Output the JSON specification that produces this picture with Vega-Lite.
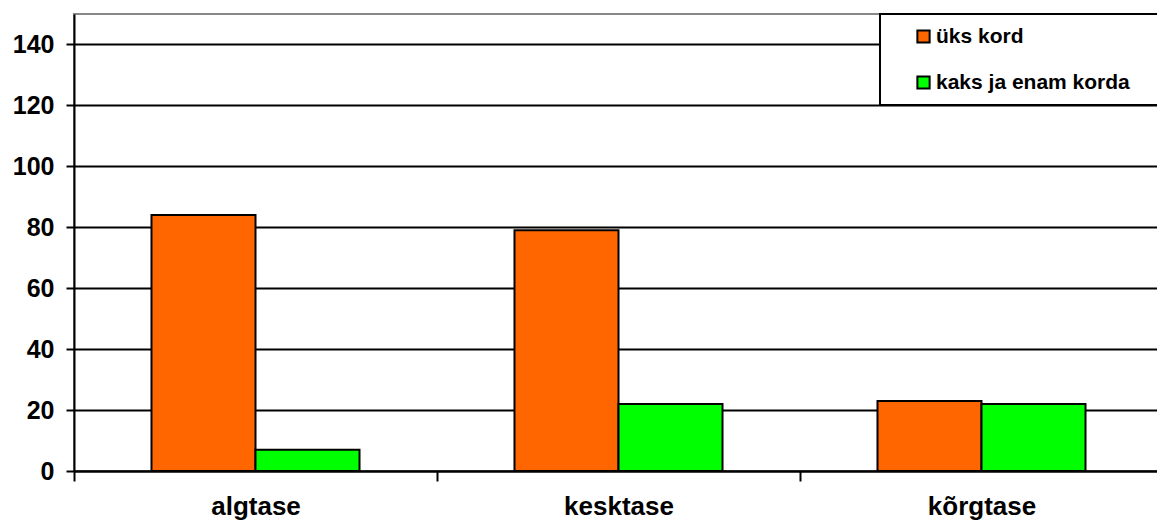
{
  "$schema": "https://vega.github.io/schema/vega-lite/v6.json",
  "autosize": {"type": "none"},
  "padding": {"left": 74, "top": 14, "right": 0, "bottom": 53},
  "width": 1089,
  "height": 457,
  "background": "white",
  "config": {
    "view": {"stroke": "#888888", "strokeWidth": 2},
    "font": "Liberation Sans"
  },
  "data": {
    "values": [
      {"level": "algtase", "series": "üks kord", "value": 84},
      {"level": "algtase", "series": "kaks ja enam korda", "value": 7},
      {"level": "kesktase", "series": "üks kord", "value": 79},
      {"level": "kesktase", "series": "kaks ja enam korda", "value": 22},
      {"level": "kõrgtase", "series": "üks kord", "value": 23},
      {"level": "kõrgtase", "series": "kaks ja enam korda", "value": 22}
    ]
  },
  "mark": {"type": "bar", "stroke": "black", "strokeWidth": 2},
  "encoding": {
    "x": {
      "field": "level",
      "type": "nominal",
      "sort": ["algtase", "kesktase", "kõrgtase"],
      "scale": {"paddingInner": 0, "paddingOuter": 0},
      "axis": {
        "title": null,
        "tickBand": "extent",
        "labelAngle": 0,
        "labelAlign": "center",
        "labelBound": false,
        "labelFlush": false,
        "labelOverlap": false,
        "labelFont": "Liberation Sans",
        "labelFontWeight": "bold",
        "labelFontSize": 26,
        "labelColor": "black",
        "labelPadding": 12,
        "tickSize": 10,
        "tickColor": "black",
        "tickWidth": 2,
        "domainColor": "black",
        "domainWidth": 2,
        "grid": false
      }
    },
    "xOffset": {
      "field": "series",
      "type": "nominal",
      "sort": ["üks kord", "kaks ja enam korda"],
      "scale": {"paddingInner": 0, "paddingOuter": 0.745}
    },
    "y": {
      "field": "value",
      "type": "quantitative",
      "scale": {"domain": [0, 150], "nice": false},
      "axis": {
        "title": null,
        "values": [0, 20, 40, 60, 80, 100, 120, 140],
        "labelFont": "Liberation Sans",
        "labelFontWeight": "bold",
        "labelFontSize": 25,
        "labelColor": "black",
        "labelPadding": 12,
        "tickSize": 8,
        "tickColor": "black",
        "tickWidth": 2,
        "domainColor": "black",
        "domainWidth": 2,
        "grid": true,
        "gridColor": "black",
        "gridWidth": 2,
        "gridOpacity": 1
      }
    },
    "color": {
      "field": "series",
      "type": "nominal",
      "sort": ["üks kord", "kaks ja enam korda"],
      "scale": {"domain": ["üks kord", "kaks ja enam korda"], "range": ["#FF6600", "#00FF00"]},
      "legend": {
        "title": " ",
        "titleOrient": "right",
        "titleFontSize": 10,
        "titlePadding": 20,
        "orient": "none",
        "legendX": 806,
        "legendY": 0,
        "fillColor": "white",
        "strokeColor": "black",
        "padding": 12,
        "symbolOffset": 21,
        "symbolType": "square",
        "symbolSize": 150,
        "symbolStrokeColor": "black",
        "symbolStrokeWidth": 2,
        "symbolOpacity": 1,
        "labelFont": "Liberation Sans",
        "labelFontWeight": "bold",
        "labelFontSize": 21,
        "labelColor": "black",
        "labelOffset": 2,
        "labelLimit": 400,
        "rowPadding": 24,
        "encode": {"legend": {"update": {"strokeWidth": {"value": 2}}}}
      }
    }
  }
}
